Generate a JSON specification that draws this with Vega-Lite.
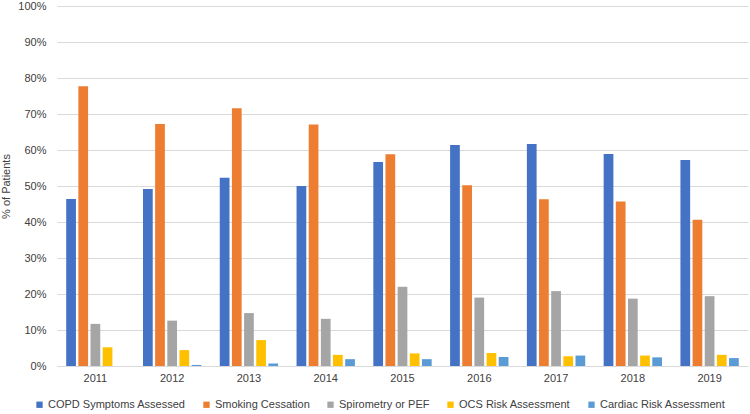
{
  "$schema": "https://vega.github.io/schema/vega-lite/v6.json",
  "autosize": {"type": "none"},
  "width": 691,
  "height": 360,
  "padding": {"left": 57, "top": 6, "right": 2, "bottom": 48},
  "background": "white",
  "config": {
    "view": {"stroke": null},
    "font": "Liberation Sans",
    "axis": {"labelFont": "Liberation Sans", "titleFont": "Liberation Sans", "labelColor": "#404040", "titleColor": "#404040", "labelFontSize": 11, "titleFontSize": 11, "titleFontWeight": "normal"},
    "legend": {"labelFont": "Liberation Sans", "labelFontSize": 11, "labelColor": "#404040"}
  },
  "data": {
    "values": [
      {"year": "2011", "series": "COPD Symptoms Assessed", "value": 46.4},
      {"year": "2011", "series": "Smoking Cessation", "value": 77.7},
      {"year": "2011", "series": "Spirometry or PEF", "value": 11.7},
      {"year": "2011", "series": "OCS Risk Assessment", "value": 5.2},
      {"year": "2011", "series": "Cardiac Risk Assessment", "value": 0},
      {"year": "2012", "series": "COPD Symptoms Assessed", "value": 49.2},
      {"year": "2012", "series": "Smoking Cessation", "value": 67.2},
      {"year": "2012", "series": "Spirometry or PEF", "value": 12.6},
      {"year": "2012", "series": "OCS Risk Assessment", "value": 4.4},
      {"year": "2012", "series": "Cardiac Risk Assessment", "value": 0.3},
      {"year": "2013", "series": "COPD Symptoms Assessed", "value": 52.3},
      {"year": "2013", "series": "Smoking Cessation", "value": 71.6},
      {"year": "2013", "series": "Spirometry or PEF", "value": 14.7},
      {"year": "2013", "series": "OCS Risk Assessment", "value": 7.2},
      {"year": "2013", "series": "Cardiac Risk Assessment", "value": 0.7},
      {"year": "2014", "series": "COPD Symptoms Assessed", "value": 50.0},
      {"year": "2014", "series": "Smoking Cessation", "value": 67.1},
      {"year": "2014", "series": "Spirometry or PEF", "value": 13.1},
      {"year": "2014", "series": "OCS Risk Assessment", "value": 3.1},
      {"year": "2014", "series": "Cardiac Risk Assessment", "value": 1.9},
      {"year": "2015", "series": "COPD Symptoms Assessed", "value": 56.7},
      {"year": "2015", "series": "Smoking Cessation", "value": 58.8},
      {"year": "2015", "series": "Spirometry or PEF", "value": 22.0},
      {"year": "2015", "series": "OCS Risk Assessment", "value": 3.5},
      {"year": "2015", "series": "Cardiac Risk Assessment", "value": 1.9},
      {"year": "2016", "series": "COPD Symptoms Assessed", "value": 61.4},
      {"year": "2016", "series": "Smoking Cessation", "value": 50.2},
      {"year": "2016", "series": "Spirometry or PEF", "value": 19.0},
      {"year": "2016", "series": "OCS Risk Assessment", "value": 3.6},
      {"year": "2016", "series": "Cardiac Risk Assessment", "value": 2.5},
      {"year": "2017", "series": "COPD Symptoms Assessed", "value": 61.7},
      {"year": "2017", "series": "Smoking Cessation", "value": 46.3},
      {"year": "2017", "series": "Spirometry or PEF", "value": 20.8},
      {"year": "2017", "series": "OCS Risk Assessment", "value": 2.7},
      {"year": "2017", "series": "Cardiac Risk Assessment", "value": 2.9},
      {"year": "2018", "series": "COPD Symptoms Assessed", "value": 58.9},
      {"year": "2018", "series": "Smoking Cessation", "value": 45.7},
      {"year": "2018", "series": "Spirometry or PEF", "value": 18.7},
      {"year": "2018", "series": "OCS Risk Assessment", "value": 2.9},
      {"year": "2018", "series": "Cardiac Risk Assessment", "value": 2.4},
      {"year": "2019", "series": "COPD Symptoms Assessed", "value": 57.2},
      {"year": "2019", "series": "Smoking Cessation", "value": 40.6},
      {"year": "2019", "series": "Spirometry or PEF", "value": 19.4},
      {"year": "2019", "series": "OCS Risk Assessment", "value": 3.1},
      {"year": "2019", "series": "Cardiac Risk Assessment", "value": 2.2}
    ]
  },
  "mark": {"type": "bar"},
  "encoding": {
    "x": {
      "field": "year", "type": "nominal", "title": null,
      "scale": {"paddingInner": 0.24, "paddingOuter": 0.12},
      "axis": {"labelAngle": 0, "ticks": false, "domain": true, "domainColor": "#d9d9d9", "labelPadding": 6, "grid": false}
    },
    "xOffset": {
      "field": "series", "type": "nominal",
      "sort": ["COPD Symptoms Assessed", "Smoking Cessation", "Spirometry or PEF", "OCS Risk Assessment", "Cardiac Risk Assessment"],
      "scale": {"paddingInner": 0.2, "paddingOuter": 0}
    },
    "y": {
      "field": "value", "type": "quantitative", "title": "% of Patients",
      "scale": {"domain": [0, 100], "nice": false},
      "axis": {"values": [0, 10, 20, 30, 40, 50, 60, 70, 80, 90, 100], "labelExpr": "datum.value + '%'", "ticks": false, "domain": false, "gridColor": "#d9d9d9", "labelPadding": 11, "titlePadding": 6}
    },
    "color": {
      "field": "series", "type": "nominal",
      "scale": {
        "domain": ["COPD Symptoms Assessed", "Smoking Cessation", "Spirometry or PEF", "OCS Risk Assessment", "Cardiac Risk Assessment"],
        "range": ["#4472C4", "#ED7D31", "#A5A5A5", "#FFC000", "#5B9BD5"]
      },
      "legend": {"title": null, "orient": "none", "direction": "horizontal", "legendX": -23, "legendY": 393, "symbolType": "square", "symbolSize": 40, "symbolStrokeWidth": 0, "labelOffset": 3, "columnPadding": 15}
    }
  }
}
